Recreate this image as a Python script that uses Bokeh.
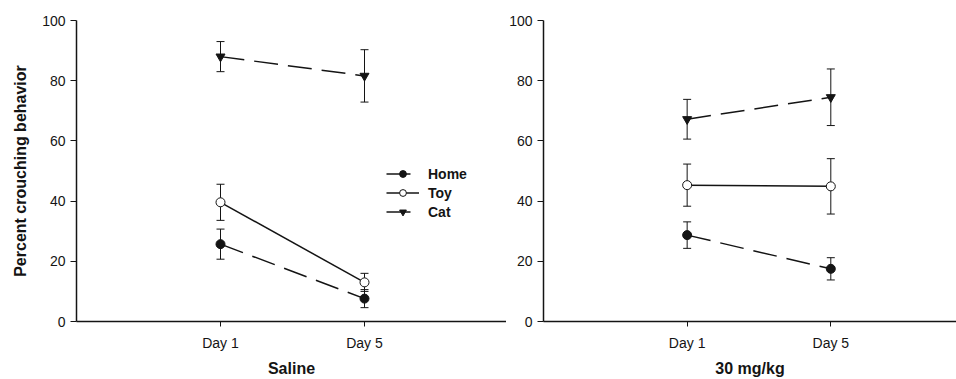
from bokeh.plotting import figure
from bokeh.layouts import row
from bokeh.models import (FixedTicker, Whisker, TeeHead, ColumnDataSource,
                          Legend, LegendItem, Range1d)
from bokeh.embed import file_html
from bokeh.resources import INLINE

days = ["Day 1", "Day 5"]
day_pos = [1, 2]

# Saline panel
sal_home = [25.7, 7.6]
sal_home_err = [5.0, 3.0]
sal_toy = [39.6, 13.0]
sal_toy_err = [6.0, 3.0]
sal_cat = [88.0, 81.6]
sal_cat_err = [5.0, 8.7]

# 30 mg/kg panel
mg_home = [28.7, 17.5]
mg_home_err = [4.4, 3.7]
mg_toy = [45.3, 44.9]
mg_toy_err = [7.0, 9.2]
mg_cat = [67.2, 74.5]
mg_cat_err = [6.6, 9.4]

FONT = "Liberation Sans"
INK = "#141414"


def make_panel(title, width, x_end, border_left, home, home_e, toy, toy_e, cat, cat_e, ylabel=None, legend=False):
    p = figure(width=width, height=379, output_backend="svg", toolbar_location=None,
               x_range=Range1d(0, x_end), y_range=Range1d(0, 100),
               min_border_left=border_left, min_border_right=0,
               min_border_top=20, min_border_bottom=58)
    p.outline_line_color = None
    p.grid.visible = False
    p.background_fill_color = "white"

    p.yaxis.ticker = FixedTicker(ticks=[0, 20, 40, 60, 80, 100])
    p.xaxis.ticker = FixedTicker(ticks=day_pos)
    p.xaxis.major_label_overrides = {1: days[0], 2: days[1]}
    for ax in (p.xaxis[0], p.yaxis[0]):
        ax.axis_line_color = INK
        ax.axis_line_width = 1.5
        ax.major_tick_line_color = INK
        ax.major_tick_out = 5
        ax.major_tick_in = 0
        ax.minor_tick_line_color = None
        ax.major_label_text_font = FONT
        ax.major_label_text_font_size = "14px"
        ax.major_label_text_color = INK
        ax.axis_label_text_font = FONT
        ax.axis_label_text_font_style = "bold"
        ax.axis_label_text_font_size = "16px"
        ax.axis_label_text_color = INK
    p.yaxis.major_tick_out = 6
    p.xaxis.axis_label = title
    p.xaxis.axis_label_standoff = 6
    p.xaxis.major_label_standoff = 8
    p.yaxis.major_label_standoff = 5
    if ylabel:
        p.yaxis.axis_label = ylabel
        p.yaxis.axis_label_standoff = 10

    items = []
    series = [("Home", home, home_e, "24 10", "circle", INK),
              ("Toy", toy, toy_e, "solid", "circle", "white"),
              ("Cat", cat, cat_e, "24 10", "inverted_triangle", INK)]
    for name, vals, errs, dash, marker, fill in series:
        src = ColumnDataSource(dict(x=day_pos, y=vals,
                                    lo=[v - e for v, e in zip(vals, errs)],
                                    hi=[v + e for v, e in zip(vals, errs)]))
        w = Whisker(source=src, base="x", lower="lo", upper="hi",
                    line_color=INK, line_width=1,
                    upper_head=TeeHead(size=8, line_color=INK, line_width=1),
                    lower_head=TeeHead(size=8, line_color=INK, line_width=1))
        p.add_layout(w)
        lr = p.line("x", "y", source=src, line_color=INK, line_width=1.5, line_dash=dash)
        sr = p.scatter("x", "y", source=src, marker=marker, size=9,
                       fill_color=fill, line_color=INK, line_width=1)
        items.append(LegendItem(label=name, renderers=[lr, sr]))

    if legend:
        lg = Legend(items=items, location=(310, 101), border_line_color=None,
                    background_fill_alpha=0, padding=0, margin=0, spacing=2,
                    glyph_width=33, glyph_height=17, label_height=17,
                    label_text_font=FONT, label_text_font_style="bold",
                    label_text_font_size="14px", label_text_color=INK,
                    label_standoff=9)
        p.add_layout(lg)
    return p


left = make_panel("Saline", 506, 430 / 144, 76, sal_home, sal_home_err, sal_toy, sal_toy_err,
                  sal_cat, sal_cat_err, ylabel="Percent crouching behavior", legend=True)
right = make_panel("30 mg/kg", 450, 414 / 144, 36, mg_home, mg_home_err, mg_toy, mg_toy_err,
                   mg_cat, mg_cat_err)

layout = row(left, right, spacing=0)
open("out.html", "w").write(file_html(layout, INLINE))
